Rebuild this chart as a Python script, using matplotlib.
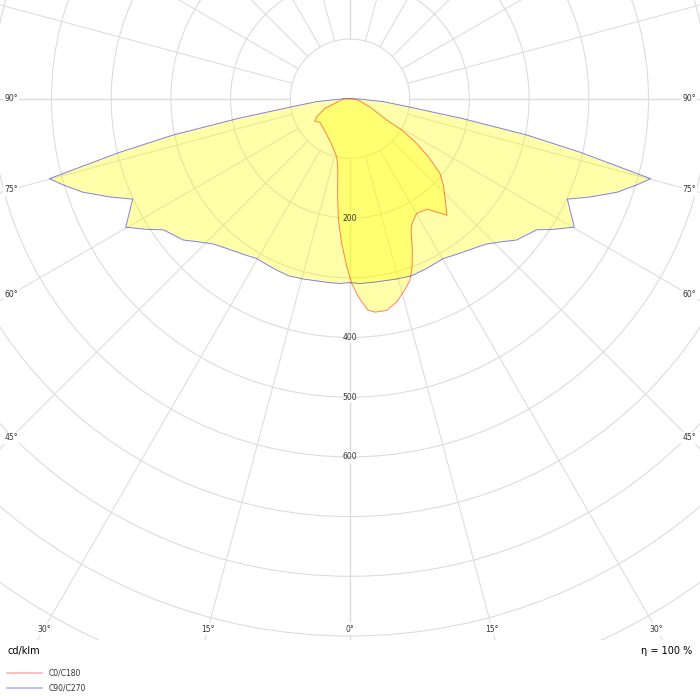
import numpy as np
import matplotlib
matplotlib.use("Agg")
import matplotlib.pyplot as plt
from matplotlib.lines import Line2D

# ---------------- data (cd/klm) ----------------
# C0/C180 plane: signed gamma (negative = C180 side, positive = C0 side)
c0_c180_gamma = [-90, -73, -69, -61.6, -57.5, -51.8, -37.1, -21.6, -12.9, -10.0,
                 -7.3, -5.6, -3.3, -1.1, 0.5, 2.4, 4.8, 6.7, 9.8, 13.0,
                 16.0, 18.3, 20.3, 22.4, 24.9, 26.6, 30.2, 35.0, 39.8, 43.6,
                 47.2, 50.3, 53.5, 56.5, 58.8, 59.9, 66.1, 81, 90]
c0_c180_cd = [11, 26, 45, 63, 70, 64, 69, 83, 100, 118,
              163, 201, 243, 281, 309, 332, 355, 360, 360, 349,
              333, 320, 300, 274, 243, 233, 222, 226, 254, 231,
              213, 196, 163, 131, 101, 71, 40, 14, 3]

# C90/C270 plane (symmetric): gamma 0..90
c90_gamma = [0, 3.1, 7.2, 14.5, 19.2, 24.3, 30.3, 34.4, 39.5, 43.2,
             47.0, 49.7, 54.9, 57.3, 60.2, 65.2, 67.7, 70.7, 73.3, 75.1,
             76.9, 78.4, 80.0, 82.0, 85.0, 88.0, 90.0]
c90_cd = [308, 310, 310, 312, 314, 312, 310, 316, 325, 334,
          351, 366, 382, 405, 433, 401, 434, 474, 502, 521,
          396, 302, 190, 101, 56, 15, 0]

radius_labels = [200, 400, 500, 600]
side_angle_labels = [90, 75, 60, 45]
bottom_angle_labels = [30, 15, 0]
legend_labels = ["C0/C180", "C90/C270"]
unit_text = "cd/klm"
eta_text = "η = 100 %"

# ---------------- layout ----------------
W = H = 700
cx, cy = 350.0, 98.7        # pole position in pixels (from top-left)
scale = 0.597               # pixels per cd/klm
rmax = 1100
Rpx = rmax * scale
plot_bottom = 640           # bottom edge of plot area (px from top)

grid_col = "#dcdcdc"
txt_col = "#333333"
fill_col = (1.0, 1.0, 0.0, 1 / 3)
red_col = (1.0, 0.0, 0.0, 0.5)
blue_col = (0.0, 0.0, 1.0, 0.5)

fig = plt.figure(figsize=(7, 7), dpi=100)
fig.patch.set_facecolor("white")
ax = fig.add_axes([(cx - Rpx) / W, (H - cy - Rpx) / H, 2 * Rpx / W, 2 * Rpx / H],
                  projection="polar")
ax.set_theta_zero_location("S")
ax.set_ylim(0, rmax)
ax.set_xticks([])
ax.set_yticks(np.arange(100, rmax + 1, 100))
ax.set_yticklabels([])
ax.tick_params(axis="y", length=0)
ax.yaxis.grid(True, color=grid_col, lw=0.8)
ax.xaxis.grid(False)
ax.spines["polar"].set_visible(False)
ax.set_facecolor("white")

# radial lines starting at the 100 circle
for a in range(0, 360, 15):
    lw = 1.0 if a % 90 == 0 else 0.75
    ax.plot([np.radians(a)] * 2, [100, rmax], color=grid_col, lw=lw, zorder=1)

# radius labels along the 0 deg line (white box under fills, text on top)
for v in radius_labels:
    ax.text(0, v, str(v), ha="center", va="center", fontsize=5.5, color=(0, 0, 0, 0),
            bbox=dict(boxstyle="square,pad=0.15", fc="white", ec="none"), zorder=1.5)
    ax.text(0, v, str(v), ha="center", va="center", fontsize=5.5, color=txt_col,
            zorder=4)

# curves
th_r = np.radians(c0_c180_gamma)
r_r = np.array(c0_c180_cd, dtype=float)
g = np.array(c90_gamma, dtype=float)
c = np.array(c90_cd, dtype=float)
th_b = np.radians(np.concatenate([-g[::-1], g[1:]]))
r_b = np.concatenate([c[::-1], c[1:]])

ax.fill(th_b, r_b, color=fill_col, lw=0, zorder=2)
ax.fill(th_r, r_r, color=fill_col, lw=0, zorder=2)
ax.plot(np.append(th_b, th_b[0]), np.append(r_b, r_b[0]), color=blue_col, lw=0.7, zorder=3)
ax.plot(np.append(th_r, th_r[0]), np.append(r_r, r_r[0]), color=red_col, lw=0.7, zorder=3)

# angle labels at frame edges
def ftext(xp, yp, s, **kw):
    fig.text(xp / W, 1 - yp / H, s, **kw)

lab_kw = dict(ha="center", va="center", fontsize=5.5, color=txt_col,
              bbox=dict(boxstyle="square,pad=0.2", fc="white", ec="none"))
for a in side_angle_labels:
    yp = cy if a == 90 else cy + (cx - 11) / np.tan(np.radians(a))
    ftext(11, yp, f"{a}°", **lab_kw)
    ftext(W - 11, yp, f"{a}°", **lab_kw)
for a in bottom_angle_labels:
    dx = (629 - cy) * np.tan(np.radians(a))
    ftext(cx - dx, 629, f"{a}°", **lab_kw)
    if a != 0:
        ftext(cx + dx, 629, f"{a}°", **lab_kw)

# white footer area
cov = fig.add_axes([0, 0, 1, (H - plot_bottom) / H])
cov.set_zorder(1)
cov.set_facecolor("white")
cov.set_xticks([])
cov.set_yticks([])
for s in cov.spines.values():
    s.set_visible(False)

ftext(7, 651, unit_text, ha="left", va="center", fontsize=7, color="black")
ftext(692, 651, eta_text, ha="right", va="center", fontsize=7, color="black")

h_red = Line2D([], [], color=(1.0, 0.0, 0.0, 0.3), lw=1.2)
h_blue = Line2D([], [], color=(0.0, 0.0, 1.0, 0.3), lw=1.2)
fig.legend([h_red, h_blue], legend_labels, loc="upper left",
           bbox_to_anchor=(7 / W, 1 - 669 / H), frameon=False, fontsize=5.5,
           labelcolor=txt_col, handlelength=4.6, handletextpad=0.8,
           labelspacing=0.7, borderpad=0, borderaxespad=0)

fig.savefig("out.png", dpi=100, facecolor="white")
